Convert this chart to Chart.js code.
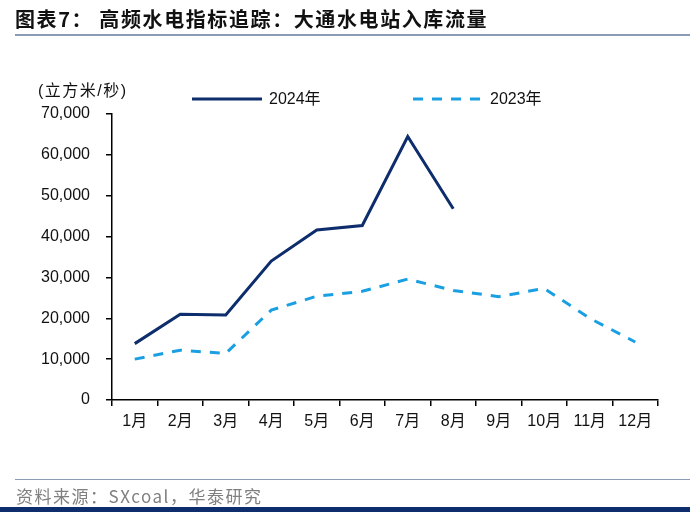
<!DOCTYPE html>
<html><head><meta charset="utf-8">
<script src="https://cdn.jsdelivr.net/npm/chart.js@4"></script>
<style>
html,body{margin:0;padding:0;background:#fff;}
#wrap{position:relative;width:700px;height:514px;overflow:hidden;}
#title{position:absolute;left:15px;top:4px;font-family:"Noto Sans CJK SC";font-weight:bold;font-size:20px;color:#111;letter-spacing:1.6px;}
#tline{position:absolute;left:15px;top:34px;width:675px;height:2px;background:#8a9bb5;}
#fline{position:absolute;left:15px;top:479px;width:675px;height:1px;background:#8a9bb5;}
#src{position:absolute;left:16px;top:483px;font-family:"Noto Sans CJK SC";font-size:17px;color:#7f7f7f;letter-spacing:1.5px;}
#bline{position:absolute;left:0px;top:507px;width:690px;height:5px;background:#0d2d6c;}
#unit{position:absolute;left:38px;top:77px;font-family:"Liberation Sans","Noto Sans CJK SC";font-size:16px;color:#111;letter-spacing:1.5px;}
canvas{position:absolute;left:0;top:0;}
</style></head>
<body><div id="wrap">
<canvas id="c" width="700" height="514"></canvas>
<div id="title">图表7： 高频水电指标追踪：大通水电站入库流量</div>
<div id="tline"></div>
<div id="unit">(立方米/秒)</div>
<div id="fline"></div>
<div id="src">资料来源：SXcoal，华泰研究</div>
<div id="bline"></div>
</div>
<script>
const categories = ["1月","2月","3月","4月","5月","6月","7月","8月","9月","10月","11月","12月"];
const series2024 = [13800, 21000, 20800, 34000, 41600, 42700, 64500, 46800, null, null, null, null];
const series2023 = [10000, 12200, 11400, 22000, 25400, 26600, 29600, 26800, 25300, 27300, 20000, 14200];
const yTicks = [0, 10000, 20000, 30000, 40000, 50000, 60000, 70000];
const legendNames = ["2024年", "2023年"];
const col2024 = "#0d2d6c", col2023 = "#1aa0e2";

const legendPlugin = {
  id: 'customLegend',
  afterDraw(chart) {
    const ctx = chart.ctx;
    ctx.save();
    ctx.font = '16px "Liberation Sans", "Noto Sans CJK SC"';
    ctx.fillStyle = '#111';
    ctx.textBaseline = 'middle';
    ctx.lineWidth = 3;
    ctx.strokeStyle = col2024;
    ctx.setLineDash([]);
    ctx.beginPath(); ctx.moveTo(192, 99); ctx.lineTo(262, 99); ctx.stroke();
    ctx.fillText(legendNames[0], 269, 100);
    ctx.strokeStyle = col2023;
    ctx.setLineDash([10, 9]);
    ctx.beginPath(); ctx.moveTo(413, 99); ctx.lineTo(482, 99); ctx.stroke();
    ctx.setLineDash([]);
    ctx.fillText(legendNames[1], 490, 100);
    ctx.restore();
  }
};

new Chart(document.getElementById('c'), {
  type: 'line',
  data: {
    labels: categories,
    datasets: [
      { label: legendNames[0], data: series2024, borderColor: col2024, borderWidth: 3, pointRadius: 0, tension: 0, spanGaps: false },
      { label: legendNames[1], data: series2023, borderColor: col2023, borderWidth: 3, borderDash: [10, 9], pointRadius: 0, tension: 0 }
    ]
  },
  options: {
    responsive: false,
    animation: false,
    events: [],
    layout: { padding: { left: 0, top: 114, right: 42, bottom: 0 } },
    plugins: { legend: { display: false }, tooltip: { enabled: false } },
    scales: {
      x: {
        offset: true,
        grid: { offset: true, drawOnChartArea: false, drawTicks: true, tickLength: 6, color: '#000', lineWidth: 1.5 },
        border: { display: true, color: '#000', width: 1.5 },
        ticks: { color: '#111', font: { family: '"Liberation Sans", "Noto Sans CJK SC"', size: 16 }, padding: 6, maxRotation: 0, autoSkip: false },
        afterFit(s) { s.height = 114; }
      },
      y: {
        min: 0, max: 70000,
        afterBuildTicks(s) { s.ticks = yTicks.map(v => ({ value: v })); },
        grid: { drawOnChartArea: false, drawTicks: true, tickLength: 6, color: '#000', lineWidth: 1.5 },
        border: { display: true, color: '#000', width: 1.5 },
        ticks: { color: '#111', font: { family: '"Liberation Sans", "Noto Sans CJK SC"', size: 16 }, padding: 16,
          callback: v => v.toLocaleString('en-US') },
        afterFit(s) { s.width = 112; }
      }
    }
  },
  plugins: [legendPlugin]
});
</script>
</body></html>
